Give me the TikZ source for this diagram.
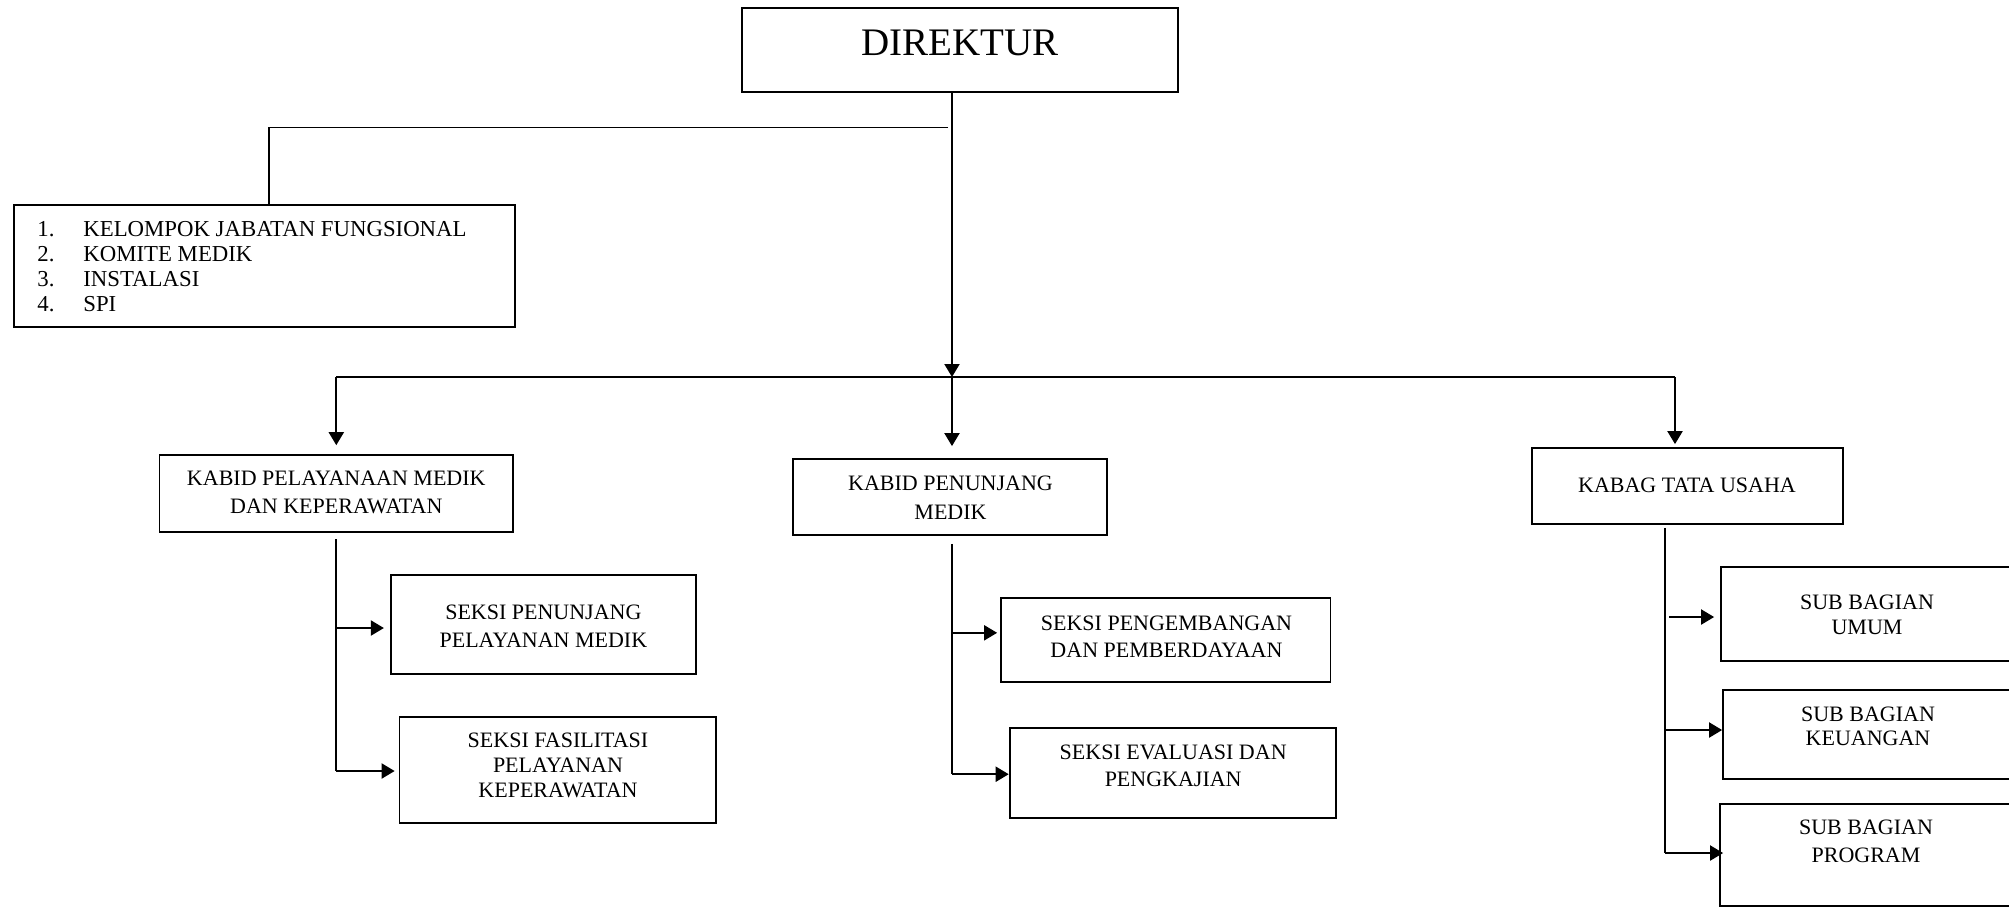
\documentclass[tikz,border=0pt]{standalone}
\usepackage{fontspec}
\setmainfont{Liberation Serif}
\usetikzlibrary{arrows.meta,calc}
\tikzset{
  box/.style={draw, line width=0.9pt, inner sep=0pt},
  txt/.style={align=center, inner sep=0pt, font=\fontsize{11}{13.75}\selectfont},
  conn/.style={line width=1pt},
  thinconn/.style={line width=0.75pt},
  arr/.style={line width=1pt, -{Triangle[length=6.5pt,width=7.5pt]}},
}
\begin{document}
\begin{tikzpicture}[x=0.5pt,y=-0.5pt]
\useasboundingbox (0,0) rectangle (2009,907);
\clip (0,0) rectangle (2009,907);
% boxes
\node[box, minimum width=218pt, minimum height=42pt] (dir) at (960,50) {};
\node[box, minimum width=250.5pt, minimum height=61pt] (lst) at (264.5,266) {};
\node[box, minimum width=176.75pt, minimum height=38.65pt] (k1) at (336.3,493.7) {};
\node[box, minimum width=157pt, minimum height=38pt] (k2) at (950,497) {};
\node[box, minimum width=155.5pt, minimum height=38pt] (k3) at (1687.5,486) {};
\node[box, minimum width=152.6pt, minimum height=49.5pt] (s1) at (543.4,624.5) {};
\node[box, minimum width=158.25pt, minimum height=53pt] (s2) at (557.8,770) {};
\node[box, minimum width=164.75pt, minimum height=41.85pt] (s3) at (1165.8,639.8) {};
\node[box, minimum width=163pt, minimum height=45pt] (s4) at (1172.6,772.7) {};
\node[box, minimum width=146.5pt, minimum height=47pt] (u1) at (1867.5,614) {};
\node[box, minimum width=145.5pt, minimum height=44.5pt] (u2) at (1868.5,734.5) {};
\node[box, minimum width=147pt, minimum height=51pt] (u3) at (1867,855) {};
% texts
\node[txt, font=\fontsize{19.5}{22}\selectfont] (tdir) at (960,42.5) {DIREKTUR};
\node[txt, align=left, anchor=west, font=\fontsize{11.4}{12.5}\selectfont] (tlst) at (37,266.5)
  {\makebox[23pt][l]{1.}KELOMPOK JABATAN FUNGSIONAL\\
   \makebox[23pt][l]{2.}KOMITE MEDIK\\
   \makebox[23pt][l]{3.}INSTALASI\\
   \makebox[23pt][l]{4.}SPI};
\node[txt, font=\fontsize{11}{14}\selectfont] (tk1) at (336.3,492) {KABID PELAYANAAN MEDIK\\DAN KEPERAWATAN};
\node[txt, font=\fontsize{11}{14.5}\selectfont] (tk2) at (950.5,497.7) {KABID PENUNJANG\\MEDIK};
\node[txt] (tk3) at (1687,485.5) {KABAG TATA USAHA};
\node[txt] (ts1) at (543.4,626) {SEKSI PENUNJANG\\PELAYANAN MEDIK};
\node[txt, font=\fontsize{11}{12.5}\selectfont] (ts2) at (558,765.5) {SEKSI FASILITASI\\PELAYANAN\\KEPERAWATAN};
\node[txt] (ts3) at (1166.5,636.8) {SEKSI PENGEMBANGAN\\DAN PEMBERDAYAAN};
\node[txt] (ts4) at (1173.2,765.8) {SEKSI EVALUASI DAN\\PENGKAJIAN};
\node[txt, font=\fontsize{11}{12.5}\selectfont] (tu1) at (1867,615) {SUB BAGIAN\\UMUM};
\node[txt, font=\fontsize{11}{12}\selectfont] (tu2) at (1868,726) {SUB BAGIAN\\KEUANGAN};
\node[txt, font=\fontsize{11}{14}\selectfont] (tu3) at (1866,841.5) {SUB BAGIAN\\PROGRAM};
% connectors from direktur
\coordinate (barM) at (952,377);
\coordinate (barL) at (336.3,377);
\coordinate (barR) at (1675,377);
\coordinate (lbr) at (948,127.5);
\draw[arr] ($(dir.south)+(-8,0)$) -- (barM);
\draw[thinconn] (lbr) -| ($(lst.north)+(4.5,0)$);
\draw[conn] (barL) -- (barR);
\draw[arr] (barL) -- ($(k1.north)+(0,-9)$);
\draw[arr] (barM) -- ($(barM |- k2.north)+(0,-12)$);
\draw[arr] (barR) -- ($(barR |- k3.north)+(0,-3)$);
% kabid pelayanan
\draw[conn] ($(k1.south)+(0,6)$) -- ($(k1.south |- s2.west)+(0,1)$);
\draw[arr] ($(k1.south |- s1.west)+(0,3.5)$) -- ($(s1.west)+(-6,3.5)$);
\draw[arr] ($(k1.south |- s2.west)+(0,1)$) -- ($(s2.west)+(-4,1)$);
% kabid penunjang
\draw[conn] ($(k2.south)+(2,8)$) -- ($(k2.south |- s4.west)+(2,1.5)$);
\draw[arr] ($(k2.south |- s3.west)+(2,-7)$) -- ($(s3.west)+(-3,-7)$);
\draw[arr] ($(k2.south |- s4.west)+(2,1.5)$) -- ($(s4.west)+(0,1.5)$);
% kabag
\draw[conn] ($(k3.south)+(-22.5,3)$) -- ($(k3.south |- u3.west)+(-22.5,-2)$);
\draw[arr] ($(k3.south |- u1.west)+(-18.5,3)$) -- ($(u1.west)+(-6,3)$);
\draw[arr] ($(k3.south |- u2.west)+(-22.5,-4.5)$) -- ($(u2.west)+(0,-4.5)$);
\draw[arr] ($(k3.south |- u3.west)+(-22.5,-2)$) -- ($(u3.west)+(4,-2)$);
\end{tikzpicture}
\end{document}
